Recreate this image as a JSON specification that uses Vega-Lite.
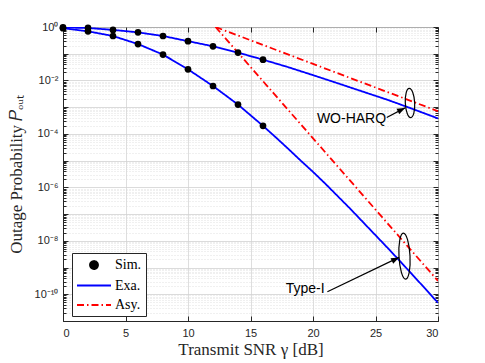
{
  "$schema": "https://vega.github.io/schema/vega-lite/v6.json",
  "width": 375,
  "height": 294,
  "autosize": "none",
  "padding": {"left": 63, "top": 27, "right": 47, "bottom": 42},
  "background": "white",
  "config": {
    "view": {"stroke": "#262626", "strokeWidth": 1},
    "axis": {
      "labelFont": "Liberation Sans",
      "labelFontSize": 11,
      "labelColor": "#262626",
      "domainColor": "#262626",
      "tickColor": "#262626",
      "titleFont": "Liberation Serif",
      "titleFontSize": 17,
      "titleFontWeight": "normal",
      "titleColor": "#262626"
    },
    "legend": {
      "orient": "none",
      "legendX": 9,
      "legendY": 226,
      "fillColor": "white",
      "strokeColor": "#262626",
      "padding": 4,
      "labelFont": "Liberation Serif",
      "labelFontSize": 14,
      "labelColor": "#000000",
      "symbolSize": 196,
      "symbolStrokeWidth": 1.8,
      "rowPadding": 4.5,
      "labelOffset": 23
    }
  },
  "datasets": {
    "curves": [
      {"x": 0, "p": 0.96, "series": "Exa.", "curve": "WO-Exa"},
      {"x": 2, "p": 0.92, "series": "Exa.", "curve": "WO-Exa"},
      {"x": 4, "p": 0.78, "series": "Exa.", "curve": "WO-Exa"},
      {"x": 6, "p": 0.63, "series": "Exa.", "curve": "WO-Exa"},
      {"x": 8, "p": 0.46, "series": "Exa.", "curve": "WO-Exa"},
      {"x": 10, "p": 0.295, "series": "Exa.", "curve": "WO-Exa"},
      {"x": 12, "p": 0.19, "series": "Exa.", "curve": "WO-Exa"},
      {"x": 14, "p": 0.11, "series": "Exa.", "curve": "WO-Exa"},
      {"x": 16, "p": 0.06, "series": "Exa.", "curve": "WO-Exa"},
      {"x": 18, "p": 0.0316, "series": "Exa.", "curve": "WO-Exa"},
      {"x": 20, "p": 0.0158, "series": "Exa.", "curve": "WO-Exa"},
      {"x": 22, "p": 0.0078, "series": "Exa.", "curve": "WO-Exa"},
      {"x": 24, "p": 0.0038, "series": "Exa.", "curve": "WO-Exa"},
      {"x": 26, "p": 0.00186, "series": "Exa.", "curve": "WO-Exa"},
      {"x": 28, "p": 0.00085, "series": "Exa.", "curve": "WO-Exa"},
      {"x": 30, "p": 0.00038, "series": "Exa.", "curve": "WO-Exa"},
      {"x": 0, "p": 0.9, "series": "Exa.", "curve": "T1-Exa"},
      {"x": 2, "p": 0.69, "series": "Exa.", "curve": "T1-Exa"},
      {"x": 4, "p": 0.46, "series": "Exa.", "curve": "T1-Exa"},
      {"x": 6, "p": 0.23, "series": "Exa.", "curve": "T1-Exa"},
      {"x": 8, "p": 0.093, "series": "Exa.", "curve": "T1-Exa"},
      {"x": 10, "p": 0.026, "series": "Exa.", "curve": "T1-Exa"},
      {"x": 12, "p": 0.0062, "series": "Exa.", "curve": "T1-Exa"},
      {"x": 14, "p": 0.00125, "series": "Exa.", "curve": "T1-Exa"},
      {"x": 16, "p": 0.0002, "series": "Exa.", "curve": "T1-Exa"},
      {"x": 17, "p": 7.6e-5, "series": "Exa.", "curve": "T1-Exa"},
      {"x": 18, "p": 2.82e-5, "series": "Exa.", "curve": "T1-Exa"},
      {"x": 19, "p": 1.02e-5, "series": "Exa.", "curve": "T1-Exa"},
      {"x": 20, "p": 3.8e-6, "series": "Exa.", "curve": "T1-Exa"},
      {"x": 21, "p": 1.35e-6, "series": "Exa.", "curve": "T1-Exa"},
      {"x": 22, "p": 4.57e-7, "series": "Exa.", "curve": "T1-Exa"},
      {"x": 23, "p": 1.55e-7, "series": "Exa.", "curve": "T1-Exa"},
      {"x": 24, "p": 5.0e-8, "series": "Exa.", "curve": "T1-Exa"},
      {"x": 25, "p": 1.62e-8, "series": "Exa.", "curve": "T1-Exa"},
      {"x": 26, "p": 5.25e-9, "series": "Exa.", "curve": "T1-Exa"},
      {"x": 27, "p": 1.66e-9, "series": "Exa.", "curve": "T1-Exa"},
      {"x": 28, "p": 5.1e-10, "series": "Exa.", "curve": "T1-Exa"},
      {"x": 29, "p": 1.58e-10, "series": "Exa.", "curve": "T1-Exa"},
      {"x": 30, "p": 4.8e-11, "series": "Exa.", "curve": "T1-Exa"},
      {"x": 12.2, "p": 1, "series": "Asy.", "curve": "WO-Asy"},
      {"x": 30, "p": 0.000708, "series": "Asy.", "curve": "WO-Asy"},
      {"x": 12.2, "p": 1, "series": "Asy.", "curve": "T1-Asy"},
      {"x": 30, "p": 3.16e-10, "series": "Asy.", "curve": "T1-Asy"}
    ],
    "sim": [
      {"x": 0, "p": 0.96, "series": "Sim."},
      {"x": 2, "p": 0.92, "series": "Sim."},
      {"x": 4, "p": 0.78, "series": "Sim."},
      {"x": 6, "p": 0.63, "series": "Sim."},
      {"x": 8, "p": 0.46, "series": "Sim."},
      {"x": 10, "p": 0.295, "series": "Sim."},
      {"x": 12, "p": 0.19, "series": "Sim."},
      {"x": 14, "p": 0.11, "series": "Sim."},
      {"x": 16, "p": 0.06, "series": "Sim."},
      {"x": 0, "p": 0.9, "series": "Sim."},
      {"x": 2, "p": 0.69, "series": "Sim."},
      {"x": 4, "p": 0.46, "series": "Sim."},
      {"x": 6, "p": 0.23, "series": "Sim."},
      {"x": 8, "p": 0.093, "series": "Sim."},
      {"x": 10, "p": 0.026, "series": "Sim."},
      {"x": 12, "p": 0.0062, "series": "Sim."},
      {"x": 14, "p": 0.00125, "series": "Sim."},
      {"x": 16, "p": 0.0002, "series": "Sim."}
    ],
    "arrows": [
      {"x": 25.9, "p": 4.1e-4, "x2": 27.36, "p2": 9.4e-4},
      {"x": 21.15, "p": 1.24e-10, "x2": 26.88, "p2": 2.4e-9}
    ],
    "ellWO": [{"x": 27.76, "p": 1.44e-3}],
    "ellT1": [{"x": 27.32, "p": 2.68e-9}],
    "labels": [
      {"x": 23.08, "p": 3.7e-4, "text": "WO-HARQ"},
      {"x": 19.37, "p": 1.56e-10, "text": "Type-I"}
    ]
  },
  "resolve": {"axis": {"x": "independent", "y": "independent"}},
  "layer": [
    {
      "data": {"name": "curves"},
      "mark": {"type": "line", "strokeWidth": 1.8, "clip": true},
      "encoding": {
        "x": {
          "field": "x", "type": "quantitative",
          "scale": {"domain": [0, 30], "nice": false, "zero": false},
          "axis": {
            "orient": "bottom",
            "values": [0, 5, 10, 15, 20, 25, 30],
            "grid": true, "gridColor": "#d6d6d6", "gridWidth": 0.8,
            "tickSize": -5, "labelPadding": 11,
            "title": "Transmit SNR γ [dB]", "titlePadding": 3
          }
        },
        "y": {
          "field": "p", "type": "quantitative",
          "scale": {"type": "log", "domain": [1e-11, 1], "nice": false},
          "axis": {
            "orient": "left",
            "values": [1, 0.9, 0.8, 0.7, 0.6, 0.5, 0.4, 0.3, 0.2, 0.1, 0.09, 0.08, 0.07, 0.06, 0.05, 0.04, 0.03, 0.02, 0.01, 0.009, 0.008, 0.007, 0.006, 0.005, 0.004, 0.003, 0.002, 0.001, 0.0009, 0.0008, 0.0007, 0.0006, 0.0005, 0.0004, 0.0003, 0.0002, 0.0001, 9e-5, 8e-5, 7e-5, 6e-5, 5e-5, 4e-5, 3e-5, 2e-5, 1e-5, 9e-6, 8e-6, 7e-6, 6e-6, 5e-6, 4e-6, 3e-6, 2e-6, 1e-6, 9e-7, 8e-7, 7e-7, 6e-7, 5e-7, 4e-7, 3e-7, 2e-7, 1e-7, 9e-8, 8e-8, 7e-8, 6e-8, 5e-8, 4e-8, 3e-8, 2e-8, 1e-8, 9e-9, 8e-9, 7e-9, 6e-9, 5e-9, 4e-9, 3e-9, 2e-9, 1e-9, 9e-10, 8e-10, 7e-10, 6e-10, 5e-10, 4e-10, 3e-10, 2e-10, 1e-10, 9e-11, 8e-11, 7e-11, 6e-11, 5e-11, 4e-11, 3e-11, 2e-11, 1e-11],
            "labelExpr": "abs(log(datum.value)/LN10 - round(log(datum.value)/LN10)) > 1e-6 ? '' : round(log(datum.value)/LN10) == 0 ? '10⁰' : round(log(datum.value)/LN10) == -2 ? '10⁻²' : round(log(datum.value)/LN10) == -4 ? '10⁻⁴' : round(log(datum.value)/LN10) == -6 ? '10⁻⁶' : round(log(datum.value)/LN10) == -8 ? '10⁻⁸' : round(log(datum.value)/LN10) == -10 ? '10⁻¹⁰' : ''",
            "labelOverlap": false,
            "labelBound": false,
            "labelFlush": false,
            "grid": true,
            "gridColor": {"condition": {"test": "abs(log(datum.value)/LN10 - round(log(datum.value)/LN10)) < 1e-6", "value": "#d2d2d2"}, "value": "#d9d9d9"},
            "gridDash": {"condition": {"test": "abs(log(datum.value)/LN10 - round(log(datum.value)/LN10)) < 1e-6", "value": []}, "value": [1, 2]},
            "gridWidth": 0.8,
            "tickSize": {"condition": {"test": "abs(log(datum.value)/LN10 - round(log(datum.value)/LN10)) < 1e-6", "value": -5}, "value": -3},
            "labelPadding": 10,
            "title": "Outage Probability 𝑃ₒᵤₜ",
            "titlePadding": 9
          }
        },
        "color": {
          "field": "series", "type": "nominal",
          "scale": {"domain": ["Sim.", "Exa.", "Asy."], "range": ["#000000", "#0000ff", "#ff0000"]},
          "legend": {
            "title": null,
            "encode": {"symbols": {"update": {
              "fill": {"signal": "datum.value === 'Sim.' ? '#000000' : 'transparent'"},
              "shape": {"signal": "datum.value === 'Sim.' ? 'M 2.0 0 C 2.0 0.3155 1.7441 0.571 1.4286 0.571 C 1.1131 0.571 0.8571 0.3155 0.8571 0 C 0.8571 -0.3155 1.1131 -0.571 1.4286 -0.571 C 1.7441 -0.571 2.0 -0.3155 2.0 0 Z' : 'M -1 0 L 3.857 0'"},
              "size": {"value": 196}
            }}}
          }
        },
        "strokeDash": {
          "field": "series", "type": "nominal",
          "scale": {"domain": ["Sim.", "Exa.", "Asy."], "range": [[1, 0], [1, 0], [7, 3, 1.5, 3]]},
          "legend": {"title": null}
        },
        "detail": {"field": "curve"}
      }
    },
    {
      "data": {"name": "sim"},
      "mark": {"type": "point", "filled": true, "size": 45, "opacity": 1},
      "encoding": {
        "x": {"field": "x", "type": "quantitative",
          "axis": {"orient": "top", "values": [0, 5, 10, 15, 20, 25, 30], "labels": false, "grid": false, "domain": false, "tickSize": -5, "title": null}},
        "y": {"field": "p", "type": "quantitative",
          "axis": {
            "orient": "right",
            "values": [1, 0.9, 0.8, 0.7, 0.6, 0.5, 0.4, 0.3, 0.2, 0.1, 0.09, 0.08, 0.07, 0.06, 0.05, 0.04, 0.03, 0.02, 0.01, 0.009, 0.008, 0.007, 0.006, 0.005, 0.004, 0.003, 0.002, 0.001, 0.0009, 0.0008, 0.0007, 0.0006, 0.0005, 0.0004, 0.0003, 0.0002, 0.0001, 9e-5, 8e-5, 7e-5, 6e-5, 5e-5, 4e-5, 3e-5, 2e-5, 1e-5, 9e-6, 8e-6, 7e-6, 6e-6, 5e-6, 4e-6, 3e-6, 2e-6, 1e-6, 9e-7, 8e-7, 7e-7, 6e-7, 5e-7, 4e-7, 3e-7, 2e-7, 1e-7, 9e-8, 8e-8, 7e-8, 6e-8, 5e-8, 4e-8, 3e-8, 2e-8, 1e-8, 9e-9, 8e-9, 7e-9, 6e-9, 5e-9, 4e-9, 3e-9, 2e-9, 1e-9, 9e-10, 8e-10, 7e-10, 6e-10, 5e-10, 4e-10, 3e-10, 2e-10, 1e-10, 9e-11, 8e-11, 7e-11, 6e-11, 5e-11, 4e-11, 3e-11, 2e-11, 1e-11],
            "labels": false, "grid": false, "domain": false, "title": null,
            "tickSize": {"condition": {"test": "abs(log(datum.value)/LN10 - round(log(datum.value)/LN10)) < 1e-6", "value": -5}, "value": -3}
          }},
        "color": {"field": "series", "type": "nominal", "legend": {"title": null}}
      }
    },
    {
      "data": {"name": "arrows"},
      "mark": {"type": "rule", "color": "#000000", "strokeWidth": 1.2},
      "encoding": {
        "x": {"field": "x", "type": "quantitative", "axis": null},
        "y": {"field": "p", "type": "quantitative", "axis": null},
        "x2": {"field": "x2"},
        "y2": {"field": "p2"}
      }
    },
    {
      "data": {"name": "arrows"},
      "mark": {"type": "point", "filled": true, "color": "#000000", "opacity": 1, "size": 64, "angle": 63, "shape": "M 0 0 L 0.75 2 L -0.75 2 Z"},
      "encoding": {
        "x": {"field": "x2", "type": "quantitative", "axis": null},
        "y": {"field": "p2", "type": "quantitative", "axis": null}
      }
    },
    {
      "data": {"name": "ellWO"},
      "mark": {"type": "point", "filled": false, "color": "#000000", "strokeWidth": 1.2, "opacity": 1, "size": 858, "angle": -3, "shape": "M 0.32 0 C 0.32 0.5523 0.1767 1 0 1 C -0.1767 1 -0.32 0.5523 -0.32 0 C -0.32 -0.5523 -0.1767 -1 0 -1 C 0.1767 -1 0.32 -0.5523 0.32 0 Z"},
      "encoding": {
        "x": {"field": "x", "type": "quantitative", "axis": null},
        "y": {"field": "p", "type": "quantitative", "axis": null}
      }
    },
    {
      "data": {"name": "ellT1"},
      "mark": {"type": "point", "filled": false, "color": "#000000", "strokeWidth": 1.2, "opacity": 1, "size": 2116, "angle": -3, "shape": "M 0.24 0 C 0.24 0.5523 0.1326 1 0 1 C -0.1326 1 -0.24 0.5523 -0.24 0 C -0.24 -0.5523 -0.1326 -1 0 -1 C 0.1326 -1 0.24 -0.5523 0.24 0 Z"},
      "encoding": {
        "x": {"field": "x", "type": "quantitative", "axis": null},
        "y": {"field": "p", "type": "quantitative", "axis": null}
      }
    },
    {
      "data": {"name": "labels"},
      "mark": {"type": "text", "font": "Liberation Sans", "fontSize": 14, "color": "#000000", "align": "center", "baseline": "middle"},
      "encoding": {
        "x": {"field": "x", "type": "quantitative", "axis": null},
        "y": {"field": "p", "type": "quantitative", "axis": null},
        "text": {"field": "text"}
      }
    }
  ]
}
